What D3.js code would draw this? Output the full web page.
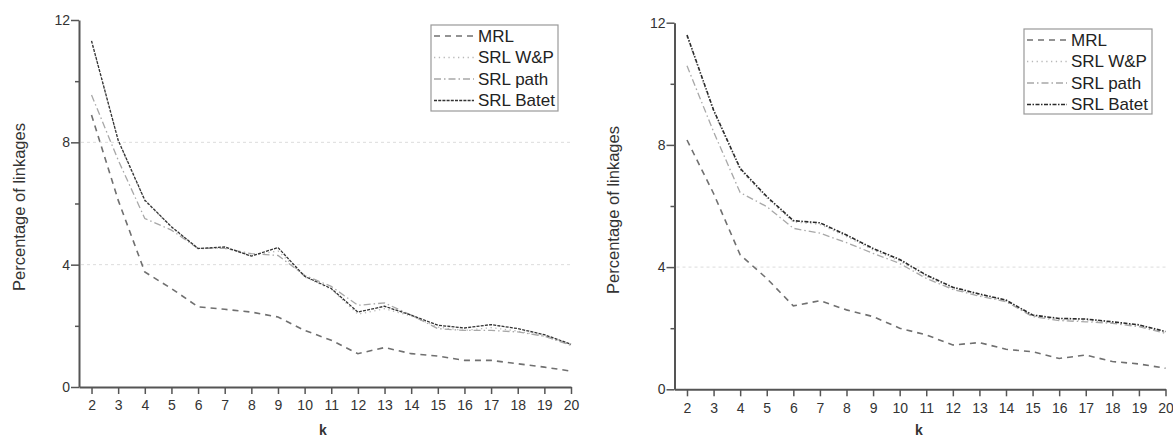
<!DOCTYPE html>
<html>
<head>
<meta charset="utf-8">
<script src="https://cdn.jsdelivr.net/npm/d3@7"></script>
<style>
  body { margin: 0; background: #fff; }
  svg { display: block; font-family: "Liberation Sans", Arial, sans-serif; }
</style>
</head>
<body>
<svg id="chart" width="1173" height="439"></svg>
<script>
const kValues = [2,3,4,5,6,7,8,9,10,11,12,13,14,15,16,17,18,19,20];
const seriesNames = ["MRL", "SRL W&P", "SRL path", "SRL Batet"];
const yTicks = [0, 4, 8, 12];
const yMinorTicks = [2, 6, 10];

// Left chart
const leftMRL   = [8.89,6.11,3.76,3.22,2.62,2.54,2.45,2.29,1.85,1.53,1.09,1.29,1.09,1.01,0.87,0.87,0.76,0.65,0.52];
const leftWP    = [11.3,8.05,6.08,5.22,4.52,4.55,4.30,4.45,3.60,3.20,2.38,2.56,2.32,1.96,1.85,1.94,1.83,1.66,1.38];
const leftPath  = [9.55,7.42,5.51,5.13,4.53,4.53,4.36,4.30,3.65,3.29,2.67,2.75,2.35,1.91,1.85,1.85,1.80,1.66,1.36];
const leftBatet = [11.32,8.07,6.11,5.24,4.53,4.58,4.28,4.56,3.62,3.22,2.45,2.64,2.35,2.02,1.93,2.04,1.91,1.71,1.40];

// Right chart
const rightMRL   = [8.16,6.41,4.40,3.63,2.73,2.90,2.60,2.38,2.00,1.78,1.45,1.53,1.31,1.23,1.01,1.12,0.91,0.83,0.69];
const rightWP    = [11.55,9.08,7.18,6.26,5.48,5.40,5.00,4.56,4.20,3.70,3.30,3.08,2.90,2.40,2.28,2.26,2.18,2.08,1.86];
const rightPath  = [10.59,8.43,6.44,5.98,5.27,5.11,4.80,4.45,4.12,3.63,3.27,3.05,2.87,2.38,2.25,2.21,2.16,2.05,1.83];
const rightBatet = [11.60,9.14,7.23,6.31,5.52,5.45,5.05,4.61,4.25,3.74,3.34,3.12,2.92,2.43,2.32,2.30,2.21,2.11,1.89];

const svg = d3.select("#chart");

const baseStyles = {
  "MRL":      {stroke: "#707070", width: 1.6, dash: "6,5"},
  "SRL W&P":  {stroke: "#b8b8b8", width: 1.3, dash: "1.3,3.5"},
  "SRL path": {stroke: "#a8a8a8", width: 1.3, dash: "7,3,1.5,3"}
};

function drawChart(cfg) {
  const g = svg.append("g");
  const x = d3.scaleLinear().domain([1.53, 20]).range([cfg.x0, cfg.x1]);
  const y = d3.scaleLinear().domain([0, 12]).range([cfg.y0, cfg.y1]);

  // grid lines
  g.selectAll(".grid").data(cfg.grid).enter().append("line")
    .attr("x1", cfg.x0 + 2).attr("x2", cfg.x1)
    .attr("y1", d => y(d)).attr("y2", d => y(d))
    .attr("stroke", "#dcdcdc").attr("stroke-width", 1)
    .attr("stroke-dasharray", "3,3");

  // x axis
  const xAxis = g.append("g").attr("transform", `translate(0,${cfg.y0})`)
    .call(d3.axisBottom(x).tickValues(kValues).tickFormat(d3.format("d")).tickSize(7).tickSizeOuter(0));
  xAxis.select(".domain").attr("stroke", "#555").attr("stroke-width", 2);
  xAxis.selectAll(".tick line").attr("stroke", "#555").attr("stroke-width", 1.5);
  xAxis.selectAll(".tick text").attr("fill", "#333").attr("font-size", 14).attr("dy", "0.95em")
    .attr("font-family", "Liberation Sans, Arial, sans-serif");

  // y axis
  const yAxis = g.append("g").attr("transform", `translate(${cfg.x0},0)`)
    .call(d3.axisLeft(y).tickValues(yTicks).tickFormat(d3.format("d")).tickSize(8).tickSizeOuter(0));
  yAxis.select(".domain").attr("stroke", "#555").attr("stroke-width", 2);
  yAxis.selectAll(".tick line").attr("stroke", "#555").attr("stroke-width", 1.5);
  yAxis.selectAll(".tick text").attr("fill", "#333").attr("font-size", 14).attr("x", -9)
    .attr("font-family", "Liberation Sans, Arial, sans-serif");
  const yMinor = g.append("g").attr("transform", `translate(${cfg.x0},0)`)
    .call(d3.axisLeft(y).tickValues(yMinorTicks).tickFormat("").tickSize(4));
  yMinor.select(".domain").remove();
  yMinor.selectAll(".tick line").attr("stroke", "#555").attr("stroke-width", 1.5);

  // axis titles
  g.append("text")
    .attr("transform", `translate(${cfg.ylabX},${cfg.ylabY}) rotate(-90)`)
    .attr("text-anchor", "middle").attr("dominant-baseline", "central")
    .attr("font-size", 16.5).attr("fill", "#333")
    .text("Percentage of linkages");
  g.append("text")
    .attr("x", cfg.kX).attr("y", cfg.kY)
    .attr("text-anchor", "middle").attr("font-size", 14).attr("font-weight", "bold").attr("fill", "#333")
    .text("k");

  // lines
  const line = d3.line().x((d, i) => x(kValues[i])).y(d => y(d));
  [0, 1, 2, 3].forEach(i => {
    const s = i === 3 ? cfg.batetStyle : baseStyles[seriesNames[i]];
    g.append("path").datum(cfg.series[i])
      .attr("d", line).attr("fill", "none")
      .attr("stroke", s.stroke).attr("stroke-width", s.width)
      .attr("stroke-dasharray", s.dash);
  });

  // legend
  const lg = g.append("g");
  lg.append("rect")
    .attr("x", cfg.legX).attr("y", cfg.legY).attr("width", cfg.legW).attr("height", cfg.legH)
    .attr("fill", "#fff").attr("stroke", "#999").attr("stroke-width", 1.2);
  seriesNames.forEach((name, i) => {
    const s = i === 3 ? cfg.batetStyle : baseStyles[name];
    const ry = cfg.legY + 11 + i * 21.5;
    lg.append("line")
      .attr("x1", cfg.legX + 3).attr("x2", cfg.legX + 43)
      .attr("y1", ry).attr("y2", ry)
      .attr("stroke", s.stroke).attr("stroke-width", s.width)
      .attr("stroke-dasharray", s.dash);
    lg.append("text")
      .attr("x", cfg.legX + 47).attr("y", ry)
      .attr("dominant-baseline", "central")
      .attr("font-size", 17).attr("fill", "#222")
      .text(name);
  });
}

drawChart({
  x0: 79, x1: 571, y0: 387, y1: 20,
  grid: [4, 8],
  ylabX: 19, ylabY: 207, kX: 323, kY: 435,
  legX: 431, legY: 25, legW: 127, legH: 86,
  series: [leftMRL, leftWP, leftPath, leftBatet],
  batetStyle: {stroke: "#333", width: 1.3, dash: "3,1.2"}
});

drawChart({
  x0: 674.5, x1: 1165.5, y0: 389.3, y1: 22.7,
  grid: [4],
  ylabX: 613, ylabY: 210, kX: 919, kY: 435,
  legX: 1024, legY: 29, legW: 128, legH: 85,
  series: [rightMRL, rightWP, rightPath, rightBatet],
  batetStyle: {stroke: "#2a2a2a", width: 1.6, dash: "4,1.5,1.5,1.5"}
});
</script>
</body>
</html>
